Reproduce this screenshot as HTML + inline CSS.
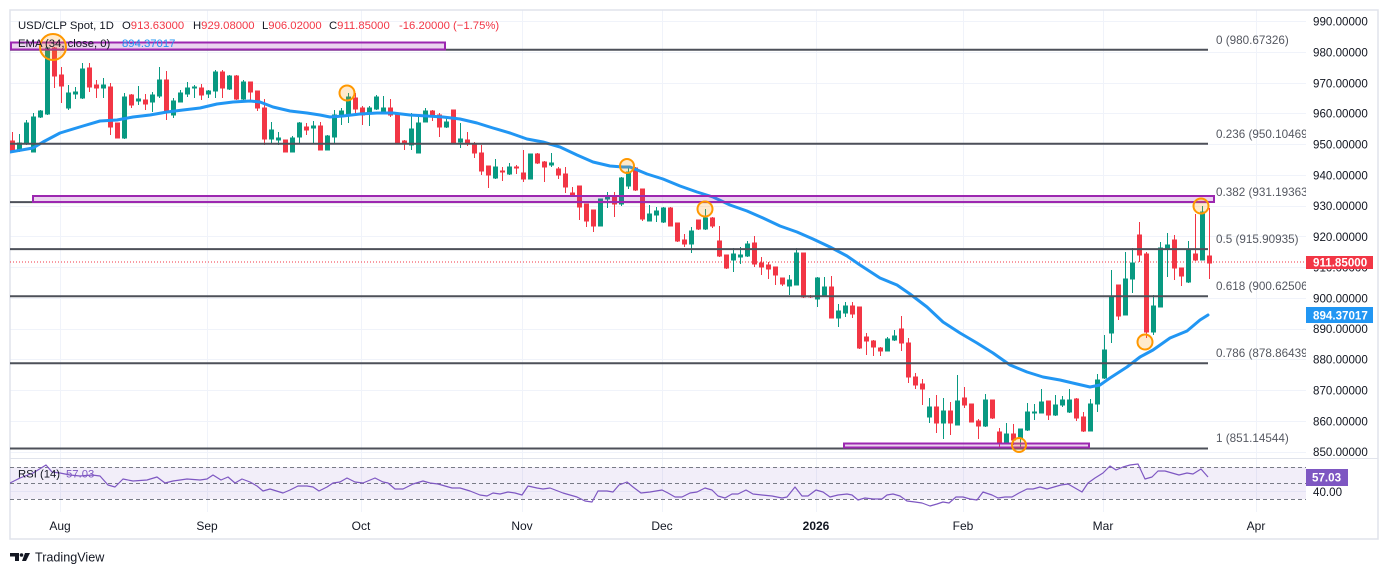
<!DOCTYPE html>
<html><head><meta charset="utf-8">
<style>
html,body{margin:0;padding:0;background:#fff;}
svg{display:block;font-family:"Liberation Sans",sans-serif;}
.u{fill:#089981;stroke:#089981;stroke-width:1}
.d{fill:#f23645;stroke:#f23645;stroke-width:1}
.pa{font-size:11.6px;fill:#131722}
.fl{font-size:11.7px;fill:#555861}
.ta{font-size:12px;fill:#131722;text-anchor:middle}
</style></head>
<body>
<svg width="1388" height="575" viewBox="0 0 1388 575" xmlns="http://www.w3.org/2000/svg">
<defs><clipPath id="plot"><rect x="10" y="10" width="1296" height="448"/></clipPath>
<clipPath id="rsi"><rect x="10" y="459" width="1296" height="52"/></clipPath></defs>
<rect x="0" y="0" width="1388" height="575" fill="#fff"/>
<!-- grid -->
<g stroke="#f0f3fa" stroke-width="1">
<path d="M10 21.5H1306M10 52.5H1306M10 83.5H1306M10 113.5H1306M10 144.5H1306M10 175.5H1306M10 206.5H1306M10 236.5H1306M10 267.5H1306M10 298.5H1306M10 329.5H1306M10 359.5H1306M10 390.5H1306M10 421.5H1306M10 452.5H1306M10 491.5H1306"/>
<path d="M60.5 10V512M207.5 10V512M361.5 10V512M522.5 10V512M662.5 10V512M816.5 10V512M963.5 10V512M1103.5 10V512M1256.5 10V512"/>
</g>
<!-- frame -->
<rect x="10" y="10" width="1368" height="529" fill="none" stroke="#e0e3eb" stroke-width="1.5"/>
<line x1="10" y1="458.5" x2="1378" y2="458.5" stroke="#e0e3eb" stroke-width="1"/>
<g clip-path="url(#plot)">
<!-- red dotted last price -->
<line x1="10" y1="262" x2="1306" y2="262" stroke="#f23645" stroke-width="1" stroke-dasharray="1,2"/>
<!-- candles red -->
<path class="d" d="M12.5 132V150M10.5 141h4V150h-4zM54.5 47V88M52.5 48h4V76h-4zM61.5 67V103M59.5 75h4V86h-4zM89.5 63V92M87.5 68h4V87h-4zM96.5 80V98M94.5 85h4V88h-4zM110.5 83V135M108.5 87h4V127h-4zM117.5 123V138M115.5 123h4V138h-4zM131.5 94V108M129.5 95h4V105h-4zM145.5 94V110M143.5 100h4V104h-4zM166.5 71V120M164.5 80h4V112h-4zM201.5 84V100M199.5 88h4V95h-4zM222.5 70V98M220.5 72h4V88h-4zM236.5 75V100M234.5 76h4V99h-4zM250.5 82V102M248.5 82h4V92h-4zM257.5 91V111M255.5 91h4V108h-4zM264.5 99V145M262.5 108h4V139h-4zM285.5 140V152M283.5 140h4V152h-4zM306.5 123V135M304.5 127h4V130h-4zM320.5 122V150M318.5 126h4V150h-4zM355.5 93V115M353.5 98h4V109h-4zM362.5 106V125M360.5 108h4V115h-4zM390.5 99V117M388.5 108h4V115h-4zM397.5 115V143M395.5 115h4V143h-4zM404.5 140V150M402.5 141h4V143h-4zM432.5 110V121M430.5 111h4V117h-4zM439.5 113V137M437.5 115h4V127h-4zM453.5 110V143M451.5 110h4V143h-4zM467.5 132V146M465.5 140h4V144h-4zM474.5 142V158M472.5 144h4V153h-4zM481.5 145V175M479.5 153h4V171h-4zM488.5 166V188M486.5 166h4V175h-4zM502.5 167V181M500.5 171h4V172h-4zM516.5 165V174M514.5 167h4V168h-4zM523.5 150V182M521.5 173h4V179h-4zM537.5 153V164M535.5 154h4V163h-4zM544.5 161V182M542.5 162h4V167h-4zM558.5 167V179M556.5 169h4V175h-4zM565.5 167V193M563.5 174h4V187h-4zM572.5 187V196M570.5 193h4V195h-4zM579.5 186V220M577.5 186h4V207h-4zM586.5 204V227M584.5 204h4V221h-4zM593.5 210V232M591.5 210h4V226h-4zM614.5 192V217M612.5 197h4V204h-4zM635.5 167V191M633.5 168h4V190h-4zM642.5 189V221M640.5 189h4V219h-4zM670.5 207V226M668.5 208h4V226h-4zM677.5 223V242M675.5 223h4V241h-4zM684.5 234V247M682.5 240h4V244h-4zM698.5 220V230M696.5 220h4V229h-4zM712.5 217V228M710.5 218h4V226h-4zM719.5 226V257M717.5 241h4V256h-4zM726.5 255V269M724.5 255h4V268h-4zM754.5 236V267M752.5 243h4V264h-4zM761.5 257V275M759.5 263h4V267h-4zM768.5 262V279M766.5 265h4V269h-4zM775.5 267V285M773.5 267h4V275h-4zM782.5 278V286M780.5 278h4V284h-4zM803.5 253V298M801.5 253h4V297h-4zM810.5 295V298M808.5 296h4V297h-4zM831.5 276V318M829.5 287h4V318h-4zM852.5 302V318M850.5 306h4V314h-4zM859.5 307V349M857.5 307h4V348h-4zM866.5 333V355M864.5 337h4V341h-4zM873.5 340V356M871.5 341h4V347h-4zM880.5 347V356M878.5 348h4V351h-4zM901.5 316V351M899.5 329h4V343h-4zM908.5 338V383M906.5 343h4V377h-4zM915.5 373V389M913.5 377h4V385h-4zM922.5 379V405M920.5 384h4V389h-4zM936.5 395V433M934.5 407h4V423h-4zM950.5 402V435M948.5 411h4V423h-4zM964.5 387V408M962.5 398h4V405h-4zM971.5 404V422M969.5 404h4V422h-4zM978.5 419V439M976.5 421h4V426h-4zM992.5 400V419M990.5 400h4V418h-4zM999.5 428V448M997.5 432h4V444h-4zM1013.5 424V445M1011.5 434h4V440h-4zM1048.5 401V420M1046.5 401h4V415h-4zM1076.5 398V421M1074.5 399h4V418h-4zM1083.5 412V432M1081.5 417h4V431h-4zM1118.5 285V320M1116.5 285h4V316h-4zM1139.5 222V262M1137.5 235h4V255h-4zM1146.5 252V338M1144.5 254h4V332h-4zM1174.5 235V280M1172.5 240h4V268h-4zM1181.5 268V286M1179.5 268h4V276h-4zM1195.5 214V261M1193.5 254h4V260h-4zM1209.5 208V279M1207.5 256h4V263h-4z"/>
<!-- candles green -->
<path class="u" d="M19.5 134V152M17.5 143h4V151h-4zM26.5 120V145M24.5 123h4V144h-4zM33.5 113V152M31.5 117h4V152h-4zM40.5 110V118M38.5 111h4V117h-4zM47.5 47V115M45.5 48h4V114h-4zM68.5 85V110M66.5 93h4V108h-4zM75.5 87V99M73.5 92h4V94h-4zM82.5 63V99M80.5 69h4V98h-4zM103.5 78V98M101.5 85h4V88h-4zM124.5 93V139M122.5 97h4V138h-4zM138.5 86V105M136.5 99h4V101h-4zM152.5 92V112M150.5 95h4V102h-4zM159.5 67V98M157.5 80h4V96h-4zM173.5 98V118M171.5 101h4V115h-4zM180.5 90V102M178.5 93h4V102h-4zM187.5 82V97M185.5 88h4V94h-4zM194.5 85V98M192.5 87h4V88h-4zM208.5 90V98M206.5 91h4V94h-4zM215.5 70V98M213.5 72h4V91h-4zM229.5 75V90M227.5 76h4V89h-4zM243.5 80V100M241.5 82h4V99h-4zM271.5 122V144M269.5 130h4V139h-4zM278.5 132V145M276.5 138h4V140h-4zM292.5 136V152M290.5 138h4V152h-4zM299.5 122V143M297.5 123h4V137h-4zM313.5 121V143M311.5 126h4V128h-4zM327.5 135V150M325.5 136h4V150h-4zM334.5 110V143M332.5 115h4V137h-4zM341.5 108V125M339.5 111h4V116h-4zM348.5 93V123M346.5 97h4V115h-4zM369.5 106V126M367.5 108h4V112h-4zM376.5 95V110M374.5 97h4V109h-4zM383.5 96V111M381.5 108h4V111h-4zM411.5 113V150M409.5 129h4V145h-4zM418.5 117V153M416.5 123h4V153h-4zM425.5 108V122M423.5 111h4V122h-4zM446.5 116V128M444.5 122h4V127h-4zM460.5 123V148M458.5 139h4V142h-4zM495.5 159V179M493.5 167h4V178h-4zM509.5 163V175M507.5 167h4V174h-4zM530.5 154V179M528.5 154h4V179h-4zM551.5 153V167M549.5 163h4V165h-4zM600.5 199V226M598.5 199h4V226h-4zM607.5 192V208M605.5 197h4V199h-4zM621.5 177V206M619.5 178h4V204h-4zM628.5 167V189M626.5 172h4V186h-4zM649.5 205V221M647.5 214h4V221h-4zM656.5 207V222M654.5 211h4V215h-4zM663.5 207V223M661.5 208h4V222h-4zM691.5 227V253M689.5 231h4V244h-4zM705.5 209V230M703.5 218h4V229h-4zM733.5 248V272M731.5 254h4V260h-4zM740.5 247V264M738.5 255h4V257h-4zM747.5 241V257M745.5 244h4V256h-4zM789.5 275V295M787.5 280h4V286h-4zM796.5 248V285M794.5 253h4V285h-4zM817.5 277V307M815.5 278h4V299h-4zM824.5 277V296M822.5 287h4V295h-4zM838.5 304V327M836.5 311h4V318h-4zM845.5 302V317M843.5 306h4V313h-4zM887.5 337V351M885.5 339h4V351h-4zM894.5 330V341M892.5 336h4V340h-4zM929.5 398V423M927.5 407h4V417h-4zM943.5 398V439M941.5 411h4V423h-4zM957.5 375V425M955.5 401h4V425h-4zM985.5 394V427M983.5 400h4V426h-4zM1006.5 423V444M1004.5 434h4V443h-4zM1020.5 429V447M1018.5 429h4V438h-4zM1027.5 403V431M1025.5 412h4V430h-4zM1034.5 404V420M1032.5 412h4V413h-4zM1041.5 389V413M1039.5 402h4V413h-4zM1055.5 395V416M1053.5 405h4V415h-4zM1062.5 396V407M1060.5 400h4V405h-4zM1069.5 389V413M1067.5 400h4V412h-4zM1090.5 399V431M1088.5 404h4V431h-4zM1097.5 374V412M1095.5 380h4V404h-4zM1104.5 335V379M1102.5 350h4V378h-4zM1111.5 270V343M1109.5 296h4V333h-4zM1125.5 252V315M1123.5 279h4V315h-4zM1132.5 248V293M1130.5 263h4V279h-4zM1153.5 295V335M1151.5 306h4V332h-4zM1160.5 242V307M1158.5 248h4V307h-4zM1167.5 233V277M1165.5 245h4V249h-4zM1188.5 241V283M1186.5 249h4V282h-4zM1202.5 206V260M1200.5 212h4V260h-4z"/>
<!-- EMA -->
<polyline fill="none" stroke="#2196f3" stroke-width="3" stroke-linejoin="round" stroke-linecap="round" points="10,152 33,148 43,142 60,133 83,126 100,121 117,120 133,117 150,115 167,112 183,110 200,108 217,104 233,102 250,101 260,102 273,107 290,111 307,113 320,115 330,117 343,116 360,114 377,113 393,113 410,115 427,116 443,117 460,119 477,123 493,128 510,133 527,139 543,142 560,147 577,155 593,162 610,166 623,167 630,167 647,174 663,179 680,186 697,192 713,197 730,205 747,211 763,218 780,226 797,232 813,239 830,247 847,256 860,265 880,278 897,285 910,294 927,307 943,322 960,333 977,343 993,353 1010,365 1027,372 1043,377 1060,380 1077,384 1090,387 1100,385 1110,378 1127,367 1140,357 1153,350 1170,338 1187,331 1200,320 1208,315"/>
<!-- fib lines -->
<g stroke="#4d5059" stroke-width="2">
<path d="M10 49.7H1208M10 143.8H1208M10 202.1H1208M10 249.1H1208M10 296.2H1208M10 363.2H1208M10 448.5H1208"/>
</g>
<g class="fl">
<text x="1216" y="44">0 (980.67326)</text>
<text x="1216" y="138">0.236 (950.10469)</text>
<text x="1216" y="196">0.382 (931.19363)</text>
<text x="1216" y="243">0.5 (915.90935)</text>
<text x="1216" y="290">0.618 (900.62506)</text>
<text x="1216" y="357">0.786 (878.86439)</text>
<text x="1216" y="442">1 (851.14544)</text>
</g>
<!-- rectangles -->
<g fill="rgba(156,39,176,0.2)" stroke="#9c27b0" stroke-width="2">
<rect x="11" y="42.5" width="434" height="7"/>
<rect x="33" y="196" width="1181" height="6"/>
<rect x="844" y="443.5" width="245" height="4"/>
</g>
<!-- circles -->
<g fill="rgba(255,152,0,0.2)" stroke="#ff9800" stroke-width="2">
<circle cx="53" cy="47" r="13"/>
<circle cx="347" cy="93" r="7.5"/>
<circle cx="627" cy="166" r="7"/>
<circle cx="705" cy="209" r="7.5"/>
<circle cx="1019" cy="445" r="7"/>
<circle cx="1145" cy="342" r="7.5"/>
<circle cx="1201" cy="206" r="7.5"/>
</g>
</g>
<!-- legend -->
<text x="18" y="29" font-size="11.3" fill="#131722">USD/CLP Spot, 1D</text>
<text y="29" font-size="11.3"><tspan x="122" fill="#131722">O</tspan><tspan fill="#f23645">913.63000</tspan><tspan x="193" fill="#131722">H</tspan><tspan fill="#f23645">929.08000</tspan><tspan x="262" fill="#131722">L</tspan><tspan fill="#f23645">906.02000</tspan><tspan x="329" fill="#131722">C</tspan><tspan fill="#f23645">911.85000</tspan><tspan x="399" fill="#f23645">-16.20000 (−1.75%)</tspan></text>
<text x="18" y="47" font-size="11.3" fill="#131722">EMA (34, close, 0)</text>
<text x="122" y="47" font-size="11.3" fill="#2196f3">894.37017</text>
<!-- price axis -->
<g class="pa">
<text x="1313" y="25.5">990.00000</text>
<text x="1313" y="56.5">980.00000</text>
<text x="1313" y="87.5">970.00000</text>
<text x="1313" y="117.5">960.00000</text>
<text x="1313" y="148.5">950.00000</text>
<text x="1313" y="179.5">940.00000</text>
<text x="1313" y="210">930.00000</text>
<text x="1313" y="241">920.00000</text>
<text x="1313" y="271.5">910.00000</text>
<text x="1313" y="302.5">900.00000</text>
<text x="1313" y="333">890.00000</text>
<text x="1313" y="363.5">880.00000</text>
<text x="1313" y="394.5">870.00000</text>
<text x="1313" y="425.5">860.00000</text>
<text x="1313" y="456">850.00000</text>
</g>
<rect x="1306" y="256" width="67" height="13" fill="#f23645"/>
<text x="1313" y="266.5" font-size="11.6" font-weight="bold" fill="#fff">911.85000</text>
<rect x="1306" y="307" width="67" height="16" fill="#2196f3"/>
<text x="1313" y="319.5" font-size="11.6" font-weight="bold" fill="#fff">894.37017</text>
<!-- RSI pane -->
<rect x="10" y="467" width="1296" height="32" fill="rgba(126,87,194,0.1)"/>
<g stroke="#787b86" stroke-width="1" stroke-dasharray="4,3">
<path d="M10 467.5H1306M10 483.5H1306M10 499.5H1306"/>
</g>
<g clip-path="url(#rsi)">
<polyline fill="none" stroke="#7e57c2" stroke-width="1.2" stroke-linejoin="round" points="10,483 20,478 33,473 46,465 52,472 60,473 70,475 80,476 92,475 100,476 108,485 115,487 123,479 133,481 147,480 157,477 165,483 173,481 187,479 200,480 207,479 213,475 221,480 228,477 235,483 242,479 250,482 257,486 263,491 270,489 283,493 290,490 298,486 307,486 313,487 319,491 327,487 333,483 340,482 347,478 355,482 363,483 375,478 383,482 388,483 395,489 403,489 413,484 423,481 430,483 438,484 452,488 460,488 470,491 480,495 487,496 493,493 500,494 508,492 515,493 522,495 528,486 537,488 543,489 550,488 563,493 577,497 585,501 592,502 598,491 607,491 613,492 619,485 627,482 633,487 641,493 650,492 662,490 668,493 675,497 682,497 690,493 697,492 705,488 712,490 718,496 725,498 732,494 738,494 746,490 753,494 762,495 772,496 782,498 787,497 795,487 802,496 808,496 816,490 823,492 830,497 838,495 847,494 852,495 858,500 865,498 873,499 882,499 887,495 893,494 900,496 907,501 915,502 922,503 930,506 937,504 943,502 949,503 956,497 963,497 970,499 977,500 983,492 992,495 998,498 1005,497 1012,497 1019,493 1027,489 1033,489 1040,487 1047,489 1054,487 1061,485 1068,484 1075,488 1082,492 1088,483 1095,478 1103,473 1110,466 1116,470 1123,467 1130,465 1138,464 1145,479 1152,477 1158,471 1165,471 1172,473 1179,475 1187,473 1193,474 1201,469 1208,477"/>
</g>
<text x="18" y="477.5" font-size="11.3" fill="#131722">RSI (14)</text>
<text x="66" y="477.5" font-size="11.3" fill="#7e57c2">57.03</text>
<text x="1313" y="496" class="pa">40.00</text>
<rect x="1306" y="469" width="42" height="17" fill="#7e57c2"/>
<text x="1312" y="481.5" font-size="11.6" font-weight="bold" fill="#fff">57.03</text>
<!-- time axis -->
<g class="ta">
<text x="60" y="530">Aug</text>
<text x="207" y="530">Sep</text>
<text x="361" y="530">Oct</text>
<text x="522" y="530">Nov</text>
<text x="662" y="530">Dec</text>
<text x="816" y="530" font-weight="bold">2026</text>
<text x="963" y="530">Feb</text>
<text x="1103" y="530">Mar</text>
<text x="1256" y="530">Apr</text>
</g>
<!-- logo -->
<g fill="#131722">
<path d="M10 553h9v8h-4v-4.5h-5z"/>
<circle cx="21.5" cy="555" r="1.8"/>
<path d="M25 553h5l-4 8h-4z"/>
</g>
<text x="35" y="561.5" font-size="12.6" fill="#131722">TradingView</text>
</svg>
</body></html>
